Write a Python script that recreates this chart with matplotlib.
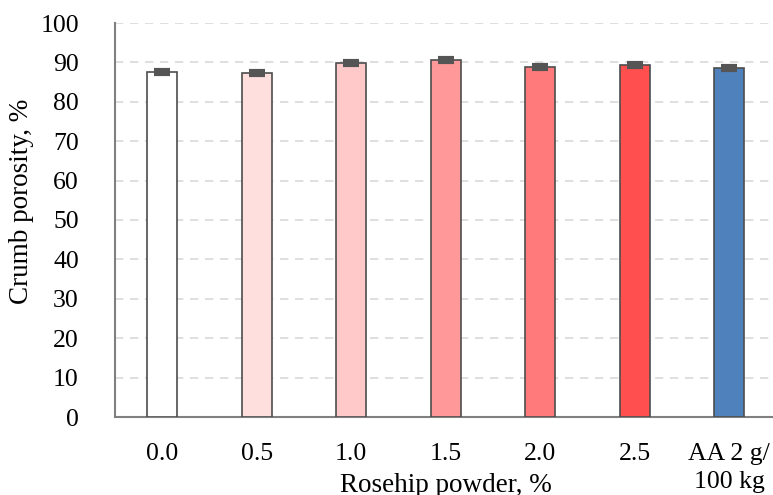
import matplotlib
matplotlib.use("Agg")
import matplotlib.pyplot as plt
import numpy as np

# Crumb porosity by rosehip powder dosage and ascorbic acid control
categories = ["0.0", "0.5", "1.0", "1.5", "2.0", "2.5", "AA 2 g/\n100 kg"]
porosity = [87.6, 87.4, 89.9, 90.6, 88.9, 89.3, 88.5]
errors = [0.5, 0.5, 0.5, 0.5, 0.5, 0.5, 0.5]
bar_colors = ["#FFFFFF", "#FFDEDE", "#FFC9C9", "#FF9999", "#FF7B7B", "#FF4F4F", "#4F81BD"]
y_ticks = [0, 10, 20, 30, 40, 50, 60, 70, 80, 90, 100]

plt.rcParams["font.family"] = ["Liberation Serif", "DejaVu Serif"]

fig = plt.figure(figsize=(7.73, 4.95), dpi=100)
ax = fig.add_axes([115 / 773, 1 - 417 / 495, 661.5 / 773, 394 / 495])

x = np.arange(len(categories))
ax.bar(x, porosity, width=0.32, color=bar_colors, edgecolor="#4D4D4D",
       linewidth=1.2, zorder=3)
ax.errorbar(x, porosity, yerr=errors, fmt="none", ecolor="#555555",
            elinewidth=1.2, capsize=6, capthick=3, zorder=4)

ax.set_xlim(-0.5, len(categories) - 0.5)
ax.set_ylim(0, 100)
ax.set_yticks(y_ticks)
ax.set_xticks(x)
ax.set_xticklabels(categories, linespacing=1.35)
ax.tick_params(axis="both", length=0, labelsize=18.5, colors="black")
ax.tick_params(axis="y", pad=26)
ax.tick_params(axis="x", pad=19)

ax.yaxis.grid(True, linestyle=(0, (5, 4)), color="#D9D9D9", linewidth=1.2, zorder=0)
ax.set_axisbelow(True)

for side in ("top", "right"):
    ax.spines[side].set_visible(False)
for side in ("left", "bottom"):
    ax.spines[side].set_color("#808080")
    ax.spines[side].set_linewidth(1.5)

ax.set_ylabel("Crumb porosity, %", fontsize=19.5)
ax.yaxis.set_label_coords(-0.122, 0.548)
ax.set_xlabel("Rosehip powder, %", fontsize=19.5, va="center")
ax.xaxis.set_label_coords(0.5, -0.175)

fig.savefig("out.png", dpi=100)
